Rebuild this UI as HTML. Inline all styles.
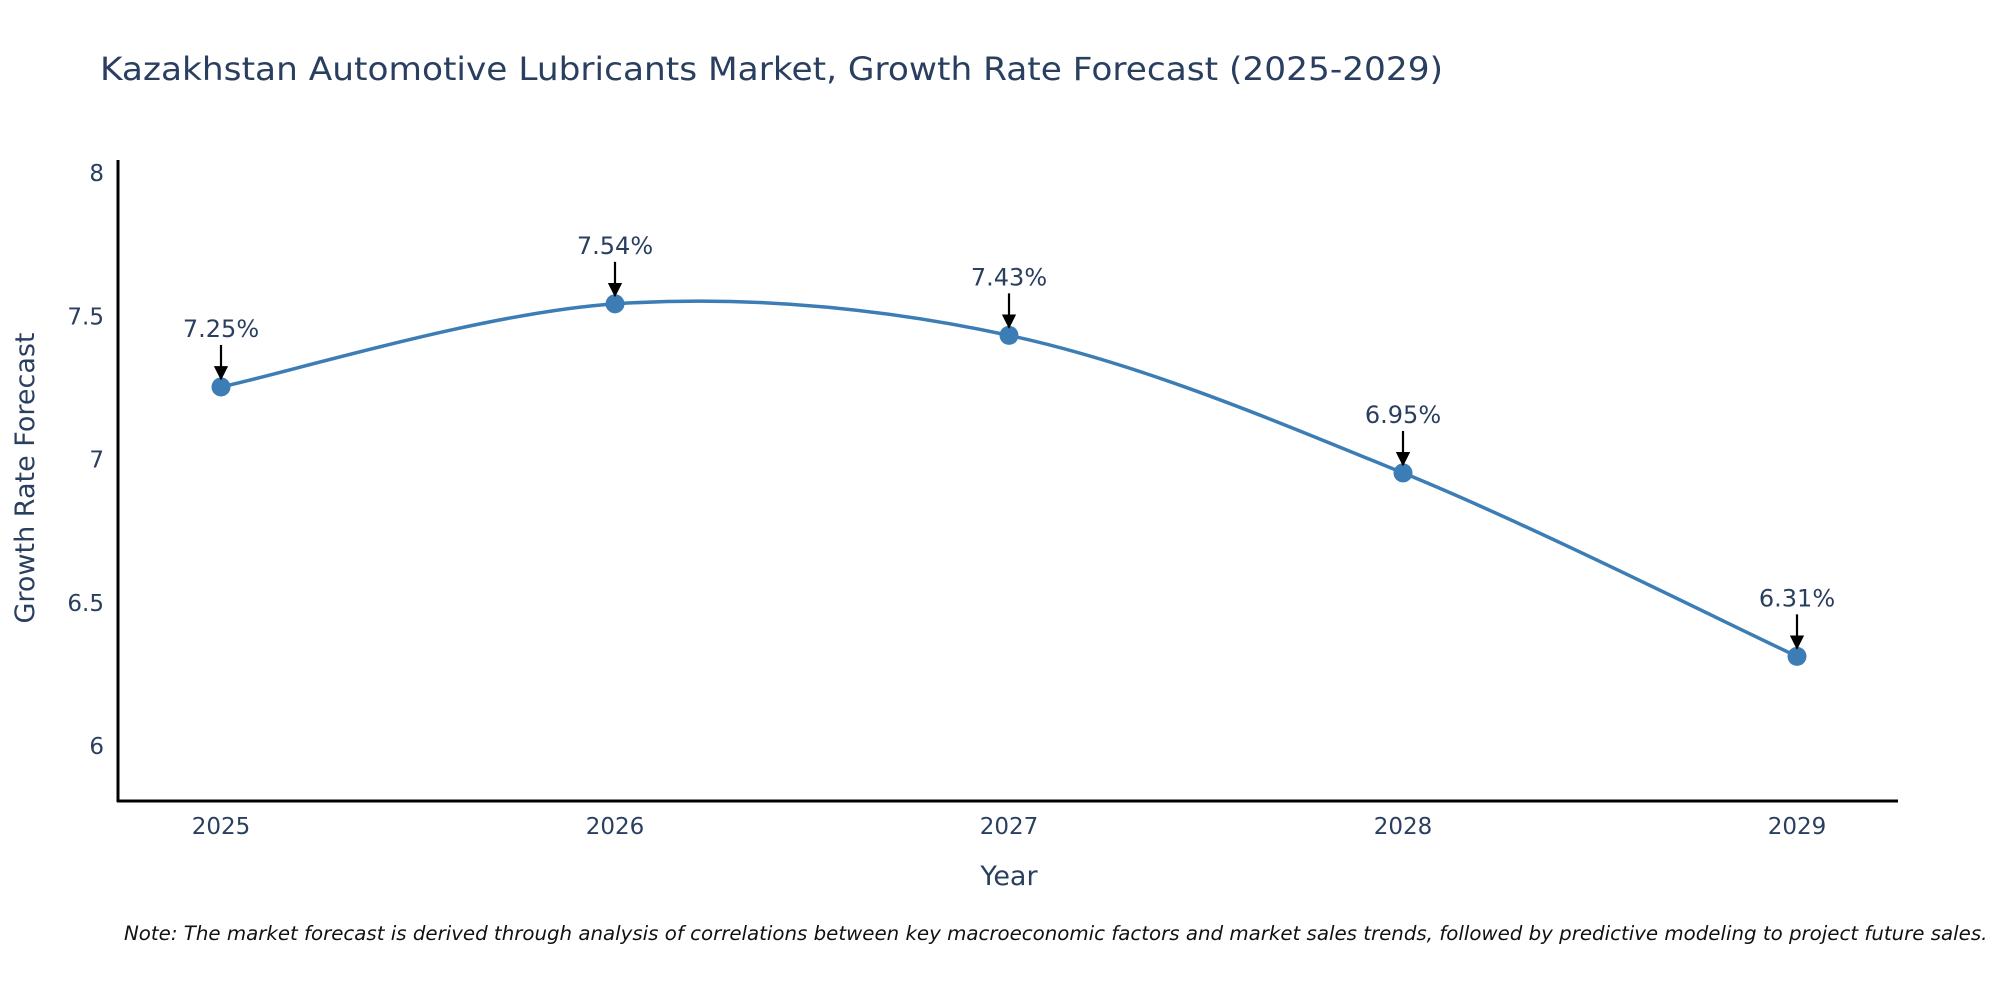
<!DOCTYPE html>
<html><head><meta charset="utf-8"><style>
html,body{margin:0;padding:0;background:#fff;}
svg{display:block;font-family:"DejaVu Sans","Liberation Sans",sans-serif;}
</style></head><body>
<svg id="chart" width="2000" height="1000" viewBox="0 0 2000 1000">
<defs><marker id="ah" viewBox="0 0 10 10" refX="9" refY="5" markerWidth="6.5" markerHeight="6.5" markerUnits="strokeWidth" orient="auto"><path d="M0,0 L10,5 L0,10 z" fill="#000"/></marker></defs>
<text x="100" y="80" font-size="32" fill="#2a3f5f" textLength="1343" lengthAdjust="spacingAndGlyphs">Kazakhstan Automotive Lubricants Market, Growth Rate Forecast (2025-2029)</text>
<g id="yticks"></g>
<g id="xticks"></g>
<line x1="118" y1="160" x2="118" y2="802" stroke="#000" stroke-width="3"/>
<line x1="117" y1="801" x2="1898" y2="801" stroke="#000" stroke-width="3"/>
<g id="series"></g>
<text x="1009" y="885" font-size="27" fill="#2a3f5f" text-anchor="middle">Year</text>
<text transform="translate(34,478) rotate(-90)" font-size="27" fill="#2a3f5f" text-anchor="middle">Growth Rate Forecast</text>
<text x="124" y="940" font-size="19.8" font-style="italic" fill="#111">Note: The market forecast is derived through analysis of correlations between key macroeconomic factors and market sales trends, followed by predictive modeling to project future sales.</text>
</svg>
<script>
const years = ["2025","2026","2027","2028","2029"];
const values = [7.25, 7.54, 7.43, 6.95, 6.31];
const labels = ["7.25%","7.54%","7.43%","6.95%","6.31%"];
const yTicks = [6, 6.5, 7, 7.5, 8];
const yTickLabels = ["6","6.5","7","7.5","8"];

const NS = "http://www.w3.org/2000/svg";
function xs(i){ return 221 + i*394; }
function ys(v){ return 172 + (8 - v)*286.6; }
function mk(tag, attrs, parent){ const e=document.createElementNS(NS,tag); for(const k in attrs) e.setAttribute(k,attrs[k]); parent.appendChild(e); return e; }

const yg=document.getElementById('yticks');
yTicks.forEach((t,i)=>{
  const e=mk('text',{x:104,y:ys(t)+9,'font-size':23,fill:'#2a3f5f','text-anchor':'end'},yg);
  
  
  e.textContent=yTickLabels[i];
});
const xg=document.getElementById('xticks');
years.forEach((y,i)=>{
  const e=mk('text',{x:xs(i),y:834,'font-size':23,fill:'#2a3f5f','text-anchor':'middle'},xg);
  
  
  e.textContent=y;
});

const sg=document.getElementById('series');
const pts=values.map((v,i)=>[xs(i),ys(v)]);
let d="M"+pts[0][0]+","+pts[0][1];
for(let i=0;i<pts.length-1;i++){
  const p0=pts[Math.max(0,i-1)],p1=pts[i],p2=pts[i+1],p3=pts[Math.min(pts.length-1,i+2)];
  const t=1/6;
  const c1=[p1[0]+(p2[0]-p0[0])*t,p1[1]+(p2[1]-p0[1])*t];
  const c2=[p2[0]-(p3[0]-p1[0])*t,p2[1]-(p3[1]-p1[1])*t];
  d+=" C"+c1+" "+c2+" "+p2;
}
const line=mk('path',{d:d,fill:'none',stroke:'#3b7db4','stroke-width':3.5},sg);


pts.forEach((p,i)=>{
  const c=mk('circle',{cx:p[0],cy:p[1],r:9.5,fill:'#3b7db4'},sg);
  
  
  const a=mk('line',{x1:p[0],y1:p[1]-42,x2:p[0],y2:p[1]-8,stroke:'#000','stroke-width':2.2,'marker-end':'url(#ah)'},sg);
  
  
  const t=mk('text',{x:p[0],y:p[1]-50,'font-size':24,fill:'#2a3f5f','text-anchor':'middle'},sg);
  
  
  t.textContent=labels[i];
});
</script>
</body></html>
